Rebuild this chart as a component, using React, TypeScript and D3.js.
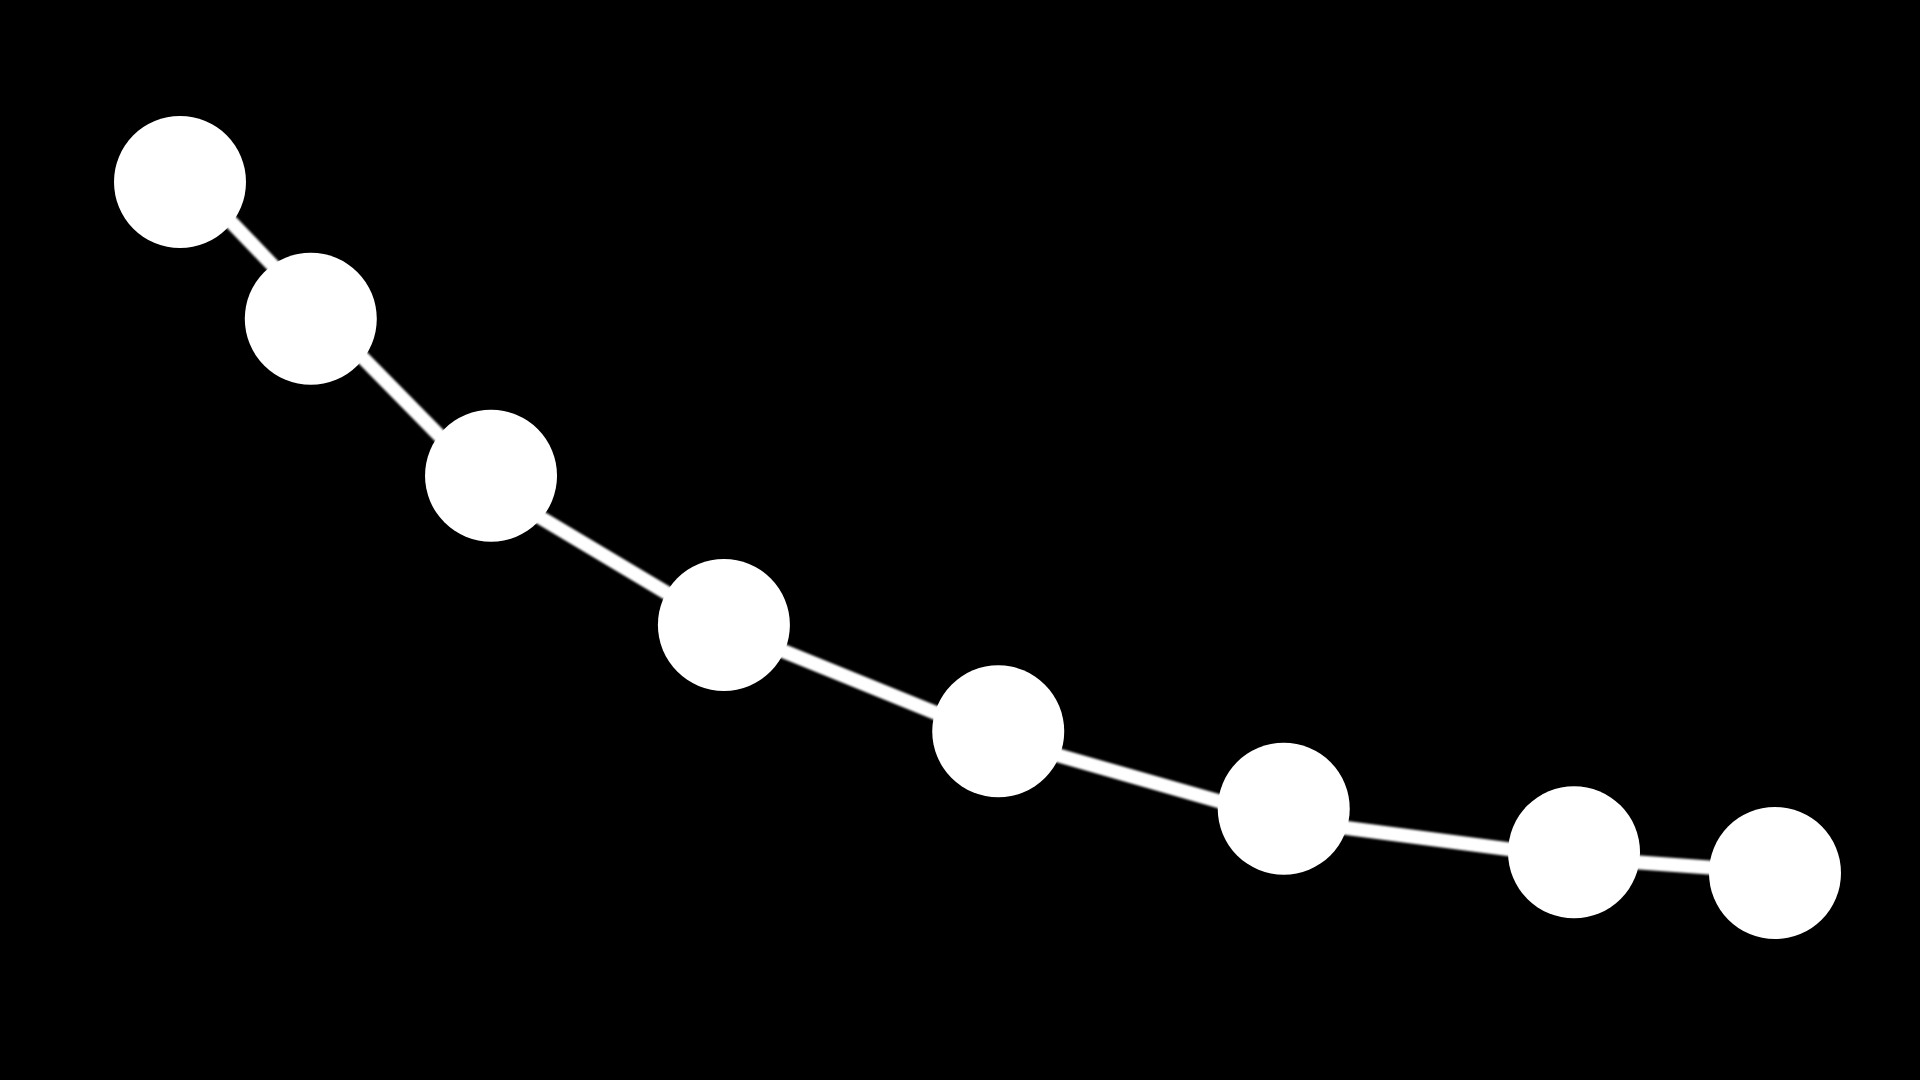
import React from "react";
import * as d3 from "d3";

const width = 1920;
const height = 1080;
const margin = { left: 180, right: 145, top: 182, bottom: 207 };
const pointRadius = 66;

// readings, in chart units (0..100 on both axes)
const xValues = [0, 8.2, 19.5, 34.1, 51.3, 69.2, 87.4, 100];
// dots
const pointValues = [100, 80.2, 57.5, 35.9, 20.5, 9.3, 3.0, 0];
// the connecting line does not sit exactly on the dot centres
const lineValues = [101.9, 82.2, 55.7, 35.6, 19.5, 7.7, 2.2, 0.1];

const points = xValues.map((x, i) => ({ x, y: pointValues[i] }));
const linePoints = xValues.map((x, i) => ({ x, y: lineValues[i] }));

const x = d3
  .scaleLinear()
  .domain([0, 100])
  .range([margin.left, width - margin.right]);
const y = d3
  .scaleLinear()
  .domain([0, 100])
  .range([height - margin.bottom, margin.top]);

const line = d3
  .line<{ x: number; y: number }>()
  .x((d) => x(d.x))
  .y((d) => y(d.y));

export default function App() {
  return (
    <svg
      width={width}
      height={height}
      style={{ position: "fixed", left: 0, top: 0, background: "#000", display: "block" }}
    >
      <defs>
        <filter id="soft" x="-5%" y="-5%" width="110%" height="110%">
          <feGaussianBlur stdDeviation="1.2" />
        </filter>
      </defs>
      <rect width={width} height={height} fill="#000" />
      <path
        d={line(linePoints) || ""}
        fill="none"
        stroke="#fff"
        strokeWidth={14}
        strokeLinejoin="round"
        filter="url(#soft)"
      />
      {points.map((d, i) => (
        <circle key={i} cx={x(d.x)} cy={y(d.y)} r={pointRadius} fill="#fff" />
      ))}
    </svg>
  );
}
